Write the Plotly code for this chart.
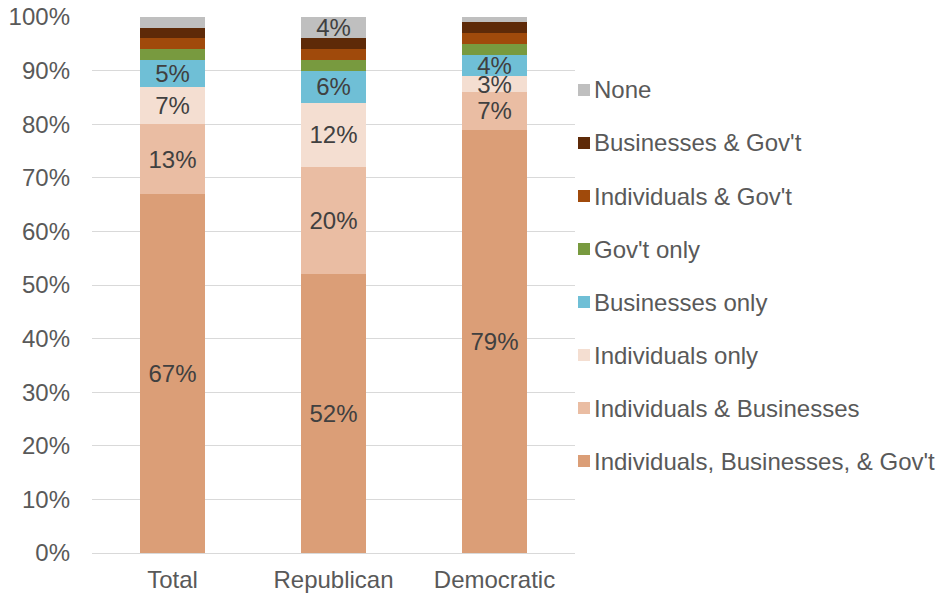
import plotly.graph_objects as go

categories = ["Total", "Republican", "Democratic"]

# Stacking order, bottom to top
series_names = [
    "Individuals, Businesses, & Gov't",
    "Individuals & Businesses",
    "Individuals only",
    "Businesses only",
    "Gov't only",
    "Individuals & Gov't",
    "Businesses & Gov't",
    "None",
]
ind_bus_gov = [67, 52, 79]
ind_bus = [13, 20, 7]
ind_only = [7, 12, 3]
bus_only = [5, 6, 4]
gov_only = [2, 2, 2]
ind_gov = [2, 2, 2]
bus_gov = [2, 2, 2]
none = [2, 4, 1]
series_values = [ind_bus_gov, ind_bus, ind_only, bus_only, gov_only, ind_gov, bus_gov, none]

colors = ["#DB9E77", "#EABDA3", "#F4DED1", "#6FBFD6", "#789A3F", "#A04A0B", "#5E2A08", "#BFBFBF"]

FONT = "Liberation Sans, Arial, sans-serif"
FS = 24
W, H = 940, 597
ML, MR, MT, MB = 92, 365, 17, 44
PW, PH = W - ML - MR, H - MT - MB

fig = go.Figure()
for name, vals, col in zip(series_names, series_values, colors):
    labels = [f"{v}%" if v >= 3 else "" for v in vals]
    fig.add_trace(go.Bar(
        x=categories,
        y=vals,
        name=name,
        marker=dict(color=col, line=dict(width=0)),
        text=labels,
        texttemplate="%{text}",
        textposition="inside",
        insidetextanchor="middle",
        textangle=0,
        constraintext="none",
        textfont=dict(family=FONT, size=FS, color="#404040"),
        hoverinfo="name+y",
        showlegend=False,
    ))

# Legend on the right, top entry = last stacked series
def px_x(px):
    return (px - ML) / PW

def px_y(py):
    return (H - MB - py) / PH

shapes, annotations = [], []
for k, (name, col) in enumerate(reversed(list(zip(series_names, colors)))):
    yc = 90 + 53 * k
    shapes.append(dict(
        type="rect", xref="paper", yref="paper",
        x0=px_x(578), x1=px_x(590), y0=px_y(yc + 6), y1=px_y(yc - 6),
        fillcolor=col, line=dict(width=0),
    ))
    annotations.append(dict(
        xref="paper", yref="paper", x=px_x(592), y=px_y(yc),
        xanchor="left", yanchor="middle", showarrow=False,
        text=name, font=dict(family=FONT, size=FS, color="#595959"),
    ))

fig.update_layout(
    barmode="stack",
    bargap=0.595,
    width=W,
    height=H,
    margin=dict(l=ML, r=MR, t=MT, b=MB),
    paper_bgcolor="white",
    plot_bgcolor="white",
    font=dict(family=FONT, size=FS, color="#595959"),
    uniformtext=dict(minsize=FS, mode="show"),
    showlegend=False,
    shapes=shapes,
    annotations=annotations,
    xaxis=dict(
        showline=False,
        ticks="",
        automargin=False,
        ticklabelstandoff=10,
        tickfont=dict(family=FONT, size=FS, color="#595959"),
    ),
    yaxis=dict(
        range=[0, 100],
        dtick=10,
        ticksuffix="%",
        showgrid=True,
        gridcolor="#D9D9D9",
        gridwidth=1.3,
        zeroline=True,
        zerolinecolor="#D9D9D9",
        zerolinewidth=1.3,
        ticks="",
        automargin=False,
        tickfont=dict(family=FONT, size=FS, color="#595959"),
        ticklabelstandoff=21,
    ),
)

fig.write_html("out.html")
